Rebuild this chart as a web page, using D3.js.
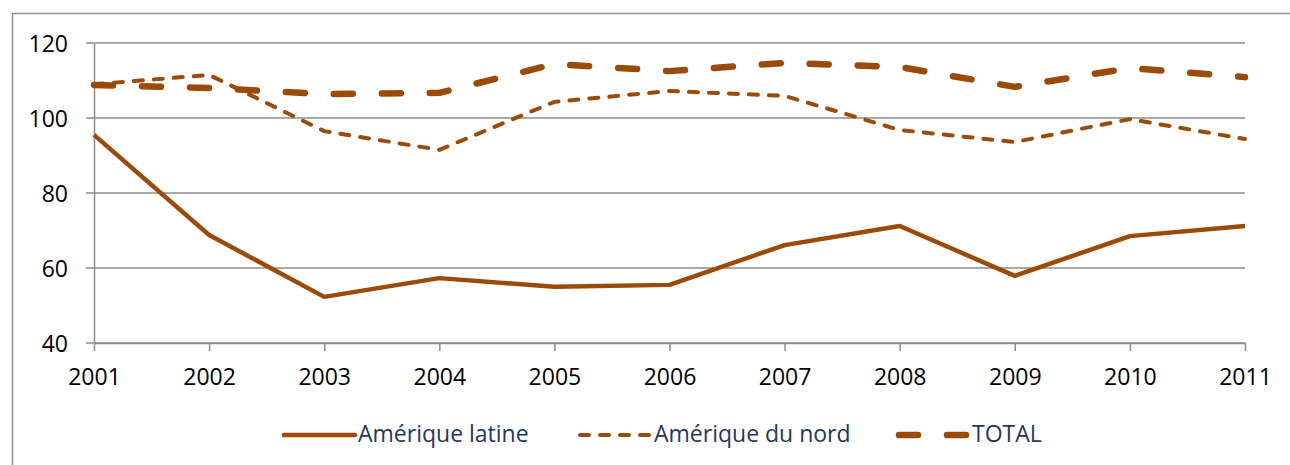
<!DOCTYPE html>
<html>
<head>
<meta charset="utf-8">
<script src="https://cdn.jsdelivr.net/npm/d3@7"></script>
<style>
  body { margin: 0; background: #fff; }
  svg { display: block; font-family: "Open Sans", sans-serif; }
</style>
</head>
<body>
<div id="chart"></div>
<script>
const years = [2001, 2002, 2003, 2004, 2005, 2006, 2007, 2008, 2009, 2010, 2011];
const ameriqueLatine = [95.5, 68.8, 52.3, 57.3, 55.0, 55.5, 66.1, 71.2, 57.9, 68.5, 71.2];
const ameriqueNord = [109.0, 111.5, 96.5, 91.5, 104.3, 107.2, 105.9, 96.8, 93.6, 99.7, 94.4];
const total = [108.8, 108.0, 106.4, 106.7, 114.4, 112.5, 114.7, 113.6, 108.3, 113.3, 110.9];
const yTicks = [40, 60, 80, 100, 120];
const seriesNames = ["Amérique latine", "Amérique du nord", "TOTAL"];

const width = 1290, height = 465;
const lineColor = "#9c4a07";
const gridColor = "#8c8c8c";
const fontSize = 23;

const svg = d3.select("#chart").append("svg")
    .attr("width", width)
    .attr("height", height);

// outer chart frame (runs off the right and bottom edges)
svg.append("rect")
    .attr("x", 12.5).attr("y", 13.5)
    .attr("width", 1300).attr("height", 500)
    .attr("fill", "none")
    .attr("stroke", gridColor)
    .attr("stroke-width", 1.5);

const x = d3.scalePoint().domain(years).range([94, 1245]);
const y = d3.scaleLinear().domain([40, 120]).range([343, 43]);

// horizontal gridlines
svg.append("g")
    .selectAll("line")
    .data(yTicks)
    .join("line")
    .attr("x1", 86).attr("x2", 1245)
    .attr("y1", d => y(d)).attr("y2", d => y(d))
    .attr("stroke", gridColor)
    .attr("stroke-width", 1.5);

// y axis
const yAxis = svg.append("g")
    .attr("transform", "translate(94,0)")
    .call(d3.axisLeft(y).tickValues(yTicks).tickSize(0).tickPadding(26));
yAxis.select(".domain").attr("stroke", gridColor).attr("stroke-width", 1.5);
yAxis.selectAll("text").attr("font-size", fontSize).attr("fill", "#000")
    .attr("font-family", "Open Sans, sans-serif")
    .attr("dy", "0.36em");

// x axis
const xAxis = svg.append("g")
    .attr("transform", "translate(0,343)")
    .call(d3.axisBottom(x).tickSize(8).tickPadding(18).tickSizeOuter(0));
xAxis.select(".domain").attr("stroke", gridColor).attr("stroke-width", 1.5);
xAxis.selectAll(".tick line").attr("stroke", gridColor).attr("stroke-width", 1.5);
xAxis.selectAll("text").attr("font-size", fontSize).attr("fill", "#000")
    .attr("font-family", "Open Sans, sans-serif");

// lines
const styles = [
    { width: 4.5, dash: null },
    { width: 4, dash: "9,11" },
    { width: 6.5, dash: "19,29" }
];
const allSeries = [ameriqueLatine, ameriqueNord, total];

const line = d3.line()
    .x((d, i) => x(years[i]))
    .y(d => y(d));

allSeries.forEach((vals, k) => {
    svg.append("path")
        .datum(vals)
        .attr("d", line)
        .attr("fill", "none")
        .attr("stroke", lineColor)
        .attr("stroke-width", styles[k].width)
        .attr("stroke-linecap", styles[k].dash ? "round" : "butt")
        .attr("stroke-linejoin", "round")
        .attr("stroke-dasharray", styles[k].dash);
});

// legend
const legendY = 435;
const legendItems = [
    { x1: 284, x2: 355, tx: 358, dash: null },
    { x1: 580, x2: 650, tx: 654, dash: "9,11" },
    { x1: 899, x2: 970, tx: 972, dash: "19,29" }
];
legendItems.forEach((it, k) => {
    svg.append("line")
        .attr("x1", it.x1).attr("x2", it.x2)
        .attr("y1", legendY).attr("y2", legendY)
        .attr("stroke", lineColor)
        .attr("stroke-width", styles[k].width)
        .attr("stroke-linecap", "round")
        .attr("stroke-dasharray", it.dash);
    svg.append("text")
        .attr("x", it.tx).attr("y", 442)
        .attr("font-size", fontSize)
        .attr("fill", "#1f3763")
        .text(seriesNames[k]);
});
</script>
</body>
</html>
